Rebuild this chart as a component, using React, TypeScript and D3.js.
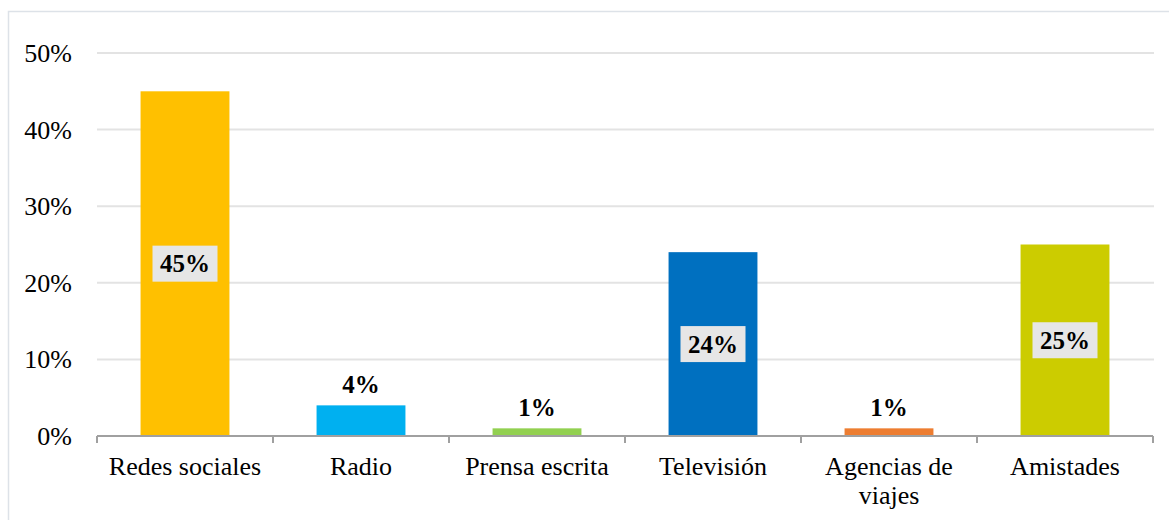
import React from "react";
import * as d3 from "d3";

const categories = ["Redes sociales", "Radio", "Prensa escrita", "Televisión", "Agencias de viajes", "Amistades"];
const categoryLines = [["Redes sociales"], ["Radio"], ["Prensa escrita"], ["Televisión"], ["Agencias de", "viajes"], ["Amistades"]];
const values = [45, 4, 1, 24, 1, 25];
const colors = ["#FFC000", "#00B0F0", "#92D050", "#0070C0", "#ED7D31", "#CCCC00"];
const yTicks = [0, 10, 20, 30, 40, 50];

const W = 1169;
const H = 520;
const FONT = "Liberation Serif";

export default function App() {
  const x = d3.scaleBand<string>().domain(categories).range([97, 1153]).paddingInner(0.495).paddingOuter(0.2475);
  const y = d3.scaleLinear().domain([0, 50]).range([436, 53]);
  const bounds = categories.map((_, i) => 97 + i * (1056 / 6));
  bounds.push(1153);

  return (
    <svg width={W} height={H} style={{ position: "absolute", left: 0, top: 0 }} fontFamily={FONT}>
      <rect x={0} y={0} width={W} height={H} fill="#fff" />
      <rect x={8.5} y={11.5} width={W + 10} height={H + 10} fill="none" stroke="#dde2e8" strokeWidth={1.5} />
      {yTicks.map((t) => (
        <g key={t}>
          {t > 0 && <line x1={97} x2={1154} y1={y(t)} y2={y(t)} stroke="#e3e3e3" strokeWidth={2} />}
          <text x={72} y={y(t) + 9} textAnchor="end" fontSize={26} fill="#000">{t}%</text>
        </g>
      ))}
      {categories.map((c, i) => {
        const bx = x(c)!;
        const bw = x.bandwidth();
        const top = y(values[i]);
        return <rect key={c} x={bx} y={top} width={bw} height={436 - top} fill={colors[i]} />;
      })}
      <line x1={97} x2={1153} y1={436} y2={436} stroke="#a0a0a0" strokeWidth={2} />
      {bounds.map((b, i) => (
        <line key={i} x1={b} x2={b} y1={436} y2={443} stroke="#a0a0a0" strokeWidth={2} />
      ))}
      {categories.map((c, i) => {
        const cx = x(c)! + x.bandwidth() / 2;
        const v = values[i];
        const top = y(v);
        if (v >= 10) {
          const cy = (top + 436) / 2;
          return (
            <g key={c}>
              <rect x={cx - 32.5} y={cy - 18} width={65} height={36} fill="#e6e6e6" />
              <text x={cx} y={cy + 8.5} textAnchor="middle" fontSize={25} fontWeight="bold" fill="#000">{v}%</text>
            </g>
          );
        }
        return (
          <text key={c} x={cx} y={top - 12} textAnchor="middle" fontSize={25} fontWeight="bold" fill="#000">{v}%</text>
        );
      })}
      {categories.map((c, i) => {
        const cx = x(c)! + x.bandwidth() / 2;
        return (
          <text key={c} x={cx} textAnchor="middle" fontSize={26} fill="#000">
            {categoryLines[i].map((l, j) => (
              <tspan key={j} x={cx} y={475 + j * 29}>{l}</tspan>
            ))}
          </text>
        );
      })}
    </svg>
  );
}
